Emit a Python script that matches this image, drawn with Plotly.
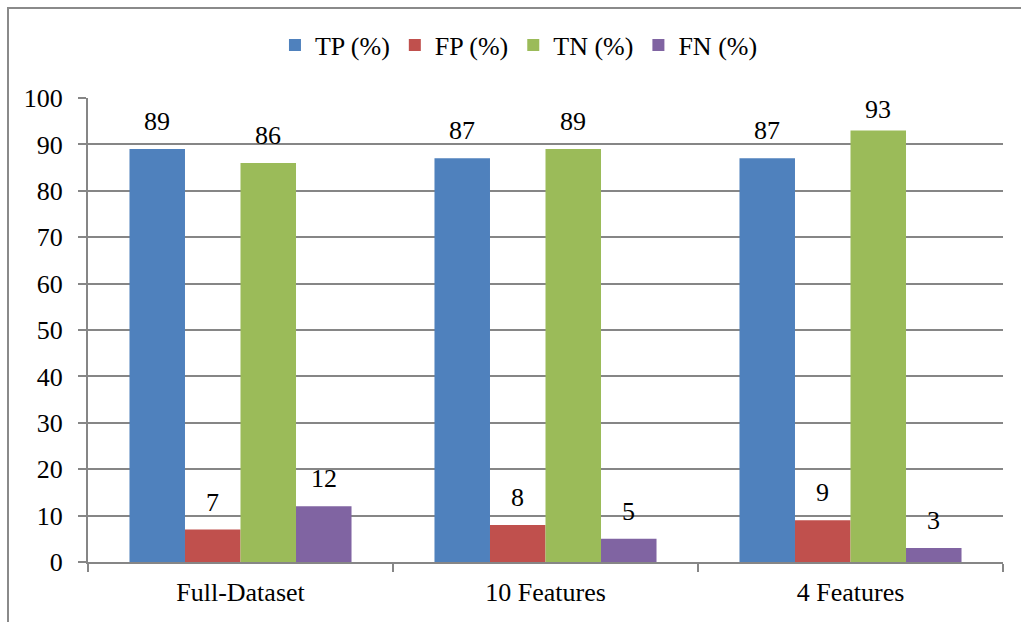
import plotly.graph_objects as go

# Classification results per feature set
categories = ["Full-Dataset", "10 Features", "4 Features"]
tp_pct = [89, 87, 87]
fp_pct = [7, 8, 9]
tn_pct = [86, 89, 93]
fn_pct = [12, 5, 3]

series = [
    ("TP (%)", tp_pct, "#4F81BD"),
    ("FP (%)", fp_pct, "#C0504D"),
    ("TN (%)", tn_pct, "#9BBB59"),
    ("FN (%)", fn_pct, "#8064A2"),
]

FONT = "Liberation Serif"
GRID = "#868686"
FS = 26
Y_MAX = 100

fig = go.Figure()
for name, vals, color in series:
    fig.add_trace(go.Bar(
        name=name, x=categories, y=vals, offsetgroup=name,
        marker=dict(color=color, line=dict(width=0)),
    ))

# Plot area spans x 88..1003, y 98..562 in page pixels
L, R, T, B = 88, 18, 98, 60
W, H = 1021, 622
pw, ph = W - L - R, H - T - B


def px_x(x):
    return (x - L) / pw


def px_y(y):
    return (H - B - y) / ph


# value labels above each bar, kept inside the plot area near the top
bargap = 0.272
n = len(series)
slot = (1 - bargap) / n
LABEL_BOX = 28
annotations = []
for i, (name, vals, color) in enumerate(series):
    off = -(1 - bargap) / 2 + slot * (i + 0.5)
    for j, v in enumerate(vals):
        room = (Y_MAX - v) * ph / Y_MAX - LABEL_BOX
        annotations.append(dict(
            x=j + off, y=v, xref="x", yref="y", text=str(v), showarrow=False,
            xanchor="center", yanchor="bottom", yshift=max(3, min(11, room)),
            font=dict(family=FONT, size=FS, color="black"),
        ))

fig.update_layout(
    width=W, height=H,
    margin=dict(l=L, r=R, t=T, b=B),
    paper_bgcolor="white", plot_bgcolor="white",
    barmode="group", bargap=bargap, bargroupgap=0,
    font=dict(family=FONT, size=FS, color="black"),
    showlegend=True,
    legend=dict(orientation="h", x=0.471, xanchor="center", y=px_y(45), yanchor="middle",
                font=dict(family=FONT, size=FS), traceorder="normal",
                itemwidth=30, itemsizing="constant"),
    xaxis=dict(showline=True, linecolor=GRID, linewidth=2, ticks="outside",
               tickson="boundaries", ticklen=8, tickcolor=GRID, tickwidth=2,
               ticklabelstandoff=6,
               showgrid=False, tickfont=dict(family=FONT, size=FS)),
    yaxis=dict(range=[0, Y_MAX], dtick=10, showline=True, linecolor=GRID, linewidth=2,
               ticks="outside", ticklen=8, tickcolor=GRID, tickwidth=2,
               ticklabelstandoff=10,
               showgrid=True, gridcolor=GRID, gridwidth=2, zeroline=False,
               tickfont=dict(family=FONT, size=FS)),
    annotations=annotations,
    shapes=[dict(type="rect", xref="paper", yref="paper",
                 x0=px_x(8), y0=px_y(640), x1=px_x(1040), y1=px_y(8),
                 line=dict(color="#8a8a8a", width=2), fillcolor="rgba(0,0,0,0)",
                 layer="below")],
)

fig.write_html("out.html")
